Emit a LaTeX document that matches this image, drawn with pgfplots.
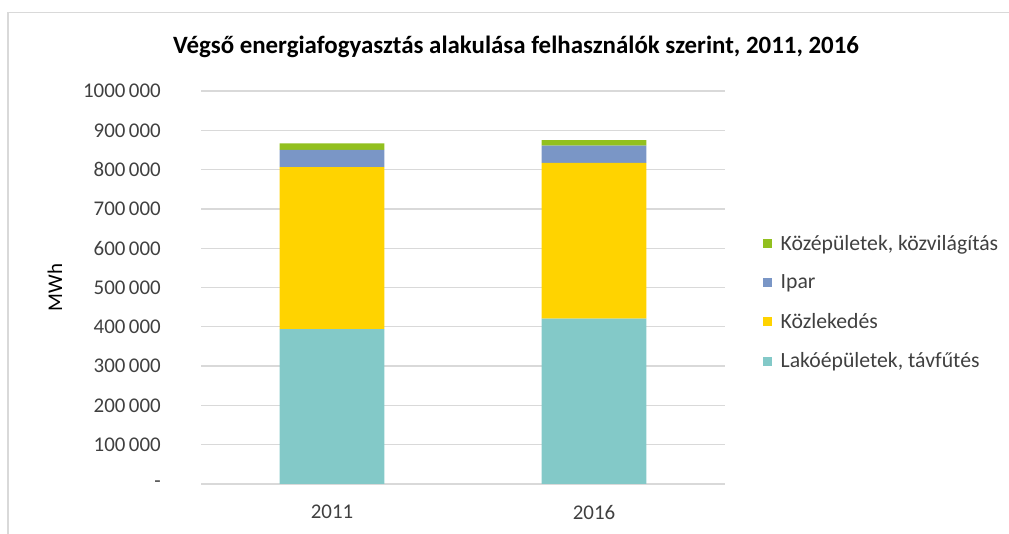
\documentclass[border=0pt]{standalone}
\usepackage{fontspec}
\setmainfont{Carlito}
\usepackage{pgfplots}
\pgfplotsset{compat=1.18}
\definecolor{cTeal}{HTML}{83C9C8}
\definecolor{cYellow}{HTML}{FFD300}
\definecolor{cBlue}{HTML}{7A96C6}
\definecolor{cGreen}{HTML}{92C01F}
\definecolor{cGrid}{HTML}{D9D9D9}
\definecolor{cText}{HTML}{404040}
\begin{document}
\begin{tikzpicture}
\path[use as bounding box] (0bp,0bp) rectangle (1009bp,534bp);
\draw[color=cGrid, line width=1.5bp] (8bp,0bp) -- (8bp,521.5bp) -- (1009bp,521.5bp);
\node[font=\bfseries\fontsize{25}{30}\selectfont, anchor=center] at (516bp,487bp) {Végső energiafogyasztás alakulása felhasználók szerint, 2011, 2016};
\begin{axis}[
  at={(201bp,50bp)}, anchor=south west,
  scale only axis, width=524bp, height=393bp,
  ybar stacked, bar width=0.4,
  xmin=-0.5, xmax=1.5, ymin=0, ymax=1000000,
  xtick={0,1}, xticklabels={2011,2016},
  ytick={0,100000,200000,300000,400000,500000,600000,700000,800000,900000,1000000},
  yticklabels={-,100\,000,200\,000,300\,000,400\,000,500\,000,600\,000,700\,000,800\,000,900\,000,1000\,000},
  scaled y ticks=false,
  axis line style={draw=none},
  major tick length=0pt,
  ymajorgrids, grid style={color=cGrid, line width=1.3bp},
  tick label style={font=\fontsize{21}{25}\selectfont, text=cText, inner sep=0pt},
  yticklabel style={anchor=east, xshift=-40bp},
  xticklabel style={anchor=north, yshift=-21bp},
  ylabel={MWh},
  ylabel style={at={(axis description cs:-0.279,0.5)}, anchor=center, font=\fontsize{21}{25}\selectfont},
  legend style={at={(axis description cs:1.0725,0.463)}, anchor=west, draw=none, fill=none,
    font=\fontsize{21.8}{25}\selectfont, text=cText, row sep=23bp, inner sep=0pt,
    nodes={inner ysep=0pt, inner xsep=8.5bp}},
  legend cell align=left,
  reverse legend,
  legend image code/.code={\fill[#1, draw=none] (0bp,-5bp) rectangle (9bp,4bp);},
]
\addplot[fill=cTeal, draw=none] coordinates {(0,394000) (1,421000)};
\addplot[fill=cYellow, draw=none] coordinates {(0,412000) (1,396000)};
\addplot[fill=cBlue, draw=none] coordinates {(0,44000) (1,44000)};
\addplot[fill=cGreen, draw=none] coordinates {(0,17000) (1,14000)};
\legend{{Lakóépületek, távfűtés}, Közlekedés, Ipar, {Középületek, közvilágítás}}
\end{axis}
\end{tikzpicture}
\end{document}
